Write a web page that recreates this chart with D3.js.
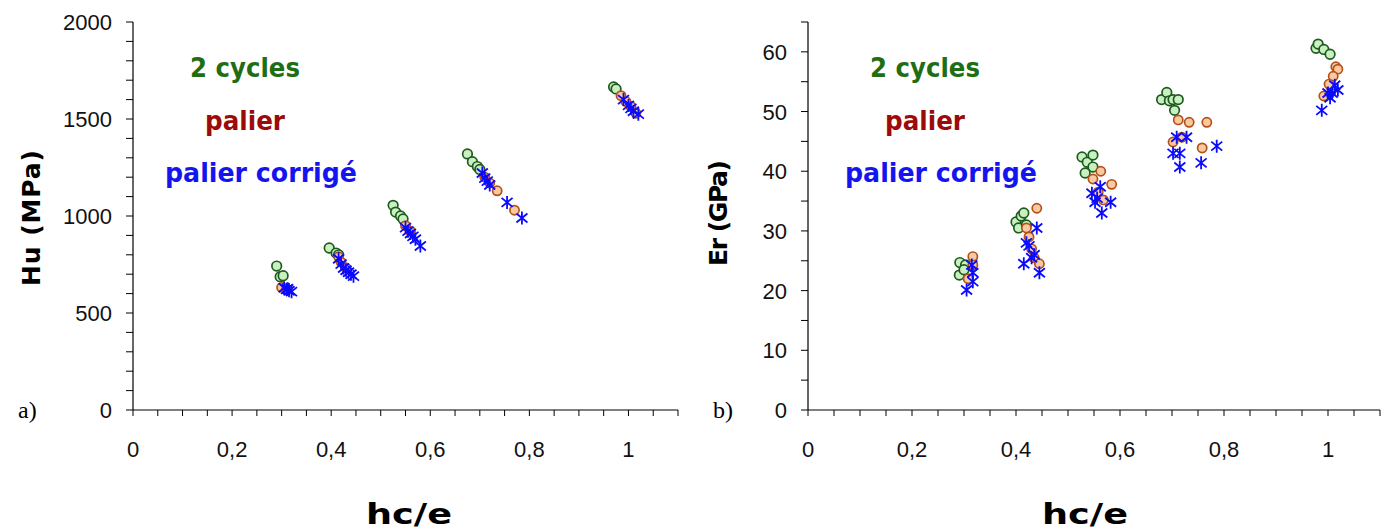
<!DOCTYPE html>
<html>
<head>
<meta charset="utf-8">
<script src="https://cdn.jsdelivr.net/npm/d3@7"></script>
<style>
  body { margin: 0; background: #fff; }
  svg { display: block; }
  .tick-label { font-family: "Liberation Sans", Arial, sans-serif; font-size: 22px; fill: #111; }
  .legend { font-family: "DejaVu Sans", Verdana, sans-serif; font-weight: bold; font-size: 26px; }
  .title { font-family: "DejaVu Sans", Verdana, sans-serif; font-weight: bold; fill: #000; }
</style>
</head>
<body>
<svg id="chart" width="1391" height="530"></svg>
<script>
// x tick labels (comma decimals)
const xTickValues = [0, 0.2, 0.4, 0.6, 0.8, 1];
const xTickLabels = ["0", "0,2", "0,4", "0,6", "0,8", "1"];

// panel a) Hu (MPa) vs hc/e
const huCycles = [
  [0.290, 742], [0.297, 687], [0.303, 692],
  [0.396, 835], [0.410, 809], [0.415, 800],
  [0.525, 1055], [0.530, 1020], [0.540, 1000], [0.545, 985],
  [0.675, 1320], [0.685, 1280], [0.695, 1255], [0.700, 1240],
  [0.970, 1665], [0.975, 1655]
];
const huPalier = [
  [0.300, 632], [0.310, 622],
  [0.415, 790], [0.420, 762], [0.430, 732],
  [0.550, 950], [0.560, 922],
  [0.710, 1200], [0.720, 1170], [0.735, 1130], [0.770, 1030],
  [0.985, 1620], [0.995, 1590], [1.005, 1565], [1.015, 1530]
];
const huCorrige = [
  [0.305, 630], [0.310, 622], [0.315, 615], [0.320, 610], [0.312, 625],
  [0.415, 780], [0.420, 752], [0.425, 732], [0.430, 720], [0.435, 710], [0.440, 700], [0.445, 690],
  [0.550, 940], [0.555, 922], [0.560, 910], [0.565, 895], [0.570, 880], [0.580, 845],
  [0.705, 1222], [0.710, 1195], [0.715, 1180], [0.720, 1160], [0.755, 1070], [0.785, 990],
  [0.990, 1600], [1.000, 1570], [1.005, 1555], [1.010, 1540], [1.020, 1525]
];

// panel b) Er (GPa) vs hc/e
const erCycles = [
  [0.292, 24.7], [0.303, 24.3], [0.291, 22.6], [0.300, 23.5],
  [0.400, 31.5], [0.410, 32.5], [0.415, 33.0], [0.405, 30.5], [0.420, 31.0],
  [0.527, 42.4], [0.537, 41.5], [0.548, 42.7], [0.548, 40.7], [0.533, 39.7],
  [0.680, 52.0], [0.690, 53.2], [0.695, 51.8], [0.702, 52.0], [0.705, 50.2], [0.712, 52.0],
  [0.977, 60.6], [0.981, 61.3], [0.992, 60.4], [1.004, 59.6]
];
const erPalier = [
  [0.317, 25.7], [0.317, 24.3], [0.308, 22.0],
  [0.420, 30.5], [0.425, 29.0], [0.430, 27.0], [0.435, 25.5], [0.440, 33.8], [0.445, 24.5],
  [0.563, 40.0], [0.548, 38.7], [0.584, 37.8], [0.568, 35.2], [0.558, 36.5],
  [0.712, 48.6], [0.733, 48.2], [0.767, 48.2], [0.702, 44.9], [0.719, 45.7], [0.758, 43.9],
  [1.015, 57.5], [1.019, 57.1], [1.010, 55.9], [1.002, 54.6], [0.992, 52.6]
];
const erCorrige = [
  [0.315, 24.3], [0.317, 23.0], [0.317, 21.5], [0.305, 20.1],
  [0.415, 24.5], [0.420, 28.0], [0.425, 27.5], [0.430, 25.5], [0.435, 26.0], [0.440, 30.5], [0.445, 23.0],
  [0.562, 37.4], [0.546, 36.3], [0.552, 34.8], [0.582, 34.8], [0.565, 33.0], [0.556, 35.5],
  [0.709, 45.7], [0.728, 45.7], [0.786, 44.2], [0.702, 43.0], [0.715, 43.0], [0.715, 40.7], [0.756, 41.4],
  [1.013, 54.4], [1.000, 53.1], [1.004, 52.3], [0.988, 50.2], [1.008, 53.1], [1.019, 53.6]
];

const legendLabels = ["2 cycles", "palier", "palier corrigé"];

const colors = {
  cyclesFill: "#c8f0c0", cyclesStroke: "#1d5a1d",
  palierFill: "#f9c9a0", palierStroke: "#b4501a",
  star: "#0a0aff",
  legend: ["#1f6e14", "#9c0a0a", "#1414f0"]
};

const svg = d3.select("#chart");

function drawPanel(p) {
  const x = d3.scaleLinear().domain([0, 1.1]).range([p.left, p.right]);
  const y = d3.scaleLinear().domain([0, p.yMax]).range([410, 22]);
  const g = svg.append("g");

  // axes lines
  g.append("line").attr("x1", x(0)).attr("x2", x(1.1)).attr("y1", y(0)).attr("y2", y(0))
    .attr("stroke", "#000").attr("stroke-width", 1.2);
  g.append("line").attr("x1", x(0)).attr("x2", x(0)).attr("y1", y(0)).attr("y2", y(p.yMax))
    .attr("stroke", "#000").attr("stroke-width", 1.2);

  // x ticks every 0.05
  const xt = d3.range(0, 1.1001, 0.05);
  g.selectAll(".xt").data(xt).join("line")
    .attr("x1", d => x(d)).attr("x2", d => x(d))
    .attr("y1", y(0)).attr("y2", y(0) + 6)
    .attr("stroke", "#000").attr("stroke-width", 1);
  g.selectAll(".xl").data(xTickValues).join("text")
    .attr("class", "tick-label")
    .attr("x", d => x(d)).attr("y", y(0) + 47)
    .attr("text-anchor", "middle")
    .text((d, i) => xTickLabels[i]);

  // y ticks
  const yt = d3.range(0, p.yMax + 0.001, p.yMinor);
  g.selectAll(".yt").data(yt).join("line")
    .attr("x1", x(0) - 7).attr("x2", x(0))
    .attr("y1", d => y(d)).attr("y2", d => y(d))
    .attr("stroke", "#000").attr("stroke-width", 1);
  g.selectAll(".yl").data(p.yLabels).join("text")
    .attr("class", "tick-label")
    .attr("x", x(0) - 21).attr("y", d => y(d) + 8)
    .attr("text-anchor", "end")
    .text(d => d);

  // axis titles
  g.append("text").attr("class", "title")
    .attr("transform", `translate(${p.yTitleX},${p.yTitleY}) rotate(-90)`)
    .attr("text-anchor", "middle").attr("font-size", 25)
    .attr("textLength", p.yTitleLen).attr("lengthAdjust", "spacing")
    .text(p.yTitle);
  g.append("text").attr("class", "title")
    .attr("x", p.xTitleX).attr("y", 524)
    .attr("text-anchor", "middle").attr("font-size", 29)
    .attr("textLength", 86).attr("lengthAdjust", "spacingAndGlyphs")
    .text("hc/e");

  // panel letter
  g.append("text")
    .attr("x", p.letterX).attr("y", 418)
    .attr("font-family", "'Liberation Serif', 'Times New Roman', serif")
    .attr("font-size", 24)
    .text(p.letter);

  // legend
  const legendPos = [[p.legX, 77, 110], [p.legX + 15, 130, 80], [p.legX - 25, 182, 192]];
  legendLabels.forEach((t, i) => {
    g.append("text").attr("class", "legend")
      .attr("x", legendPos[i][0]).attr("y", legendPos[i][1])
      .attr("fill", colors.legend[i])
      .attr("textLength", legendPos[i][2]).attr("lengthAdjust", "spacingAndGlyphs")
      .text(t);
  });

  // data
  g.selectAll(".c1").data(p.cycles).join("circle")
    .attr("cx", d => x(d[0])).attr("cy", d => y(d[1])).attr("r", 4.8)
    .attr("fill", colors.cyclesFill).attr("stroke", colors.cyclesStroke).attr("stroke-width", 1.7);
  g.selectAll(".c2").data(p.palier).join("circle")
    .attr("cx", d => x(d[0])).attr("cy", d => y(d[1])).attr("r", 4.6)
    .attr("fill", colors.palierFill).attr("stroke", colors.palierStroke).attr("stroke-width", 1.7);
  const star = "M0,-6.5L0,6.5M-5.5,-4.5L5.5,4.5M-5.5,4.5L5.5,-4.5";
  g.selectAll(".c3").data(p.corrige).join("path")
    .attr("transform", d => `translate(${x(d[0])},${y(d[1])})`)
    .attr("d", star)
    .attr("fill", "none").attr("stroke", colors.star).attr("stroke-width", 1.8);
}

drawPanel({
  left: 133, right: 678, yMax: 2000, yMinor: 100, yLabels: [0, 500, 1000, 1500, 2000],
  cycles: huCycles, palier: huPalier, corrige: huCorrige,
  yTitle: "Hu (MPa)", yTitleX: 40, yTitleY: 218, yTitleLen: 136,
  xTitleX: 409, letter: "a)", letterX: 18, legX: 190
});
drawPanel({
  left: 808, right: 1380, yMax: 65, yMinor: 5, yLabels: [0, 10, 20, 30, 40, 50, 60],
  cycles: erCycles, palier: erPalier, corrige: erCorrige,
  yTitle: "Er (GPa)", yTitleX: 727, yTitleY: 213, yTitleLen: 106,
  xTitleX: 1085, letter: "b)", letterX: 713, legX: 870
});
</script>
</body>
</html>
